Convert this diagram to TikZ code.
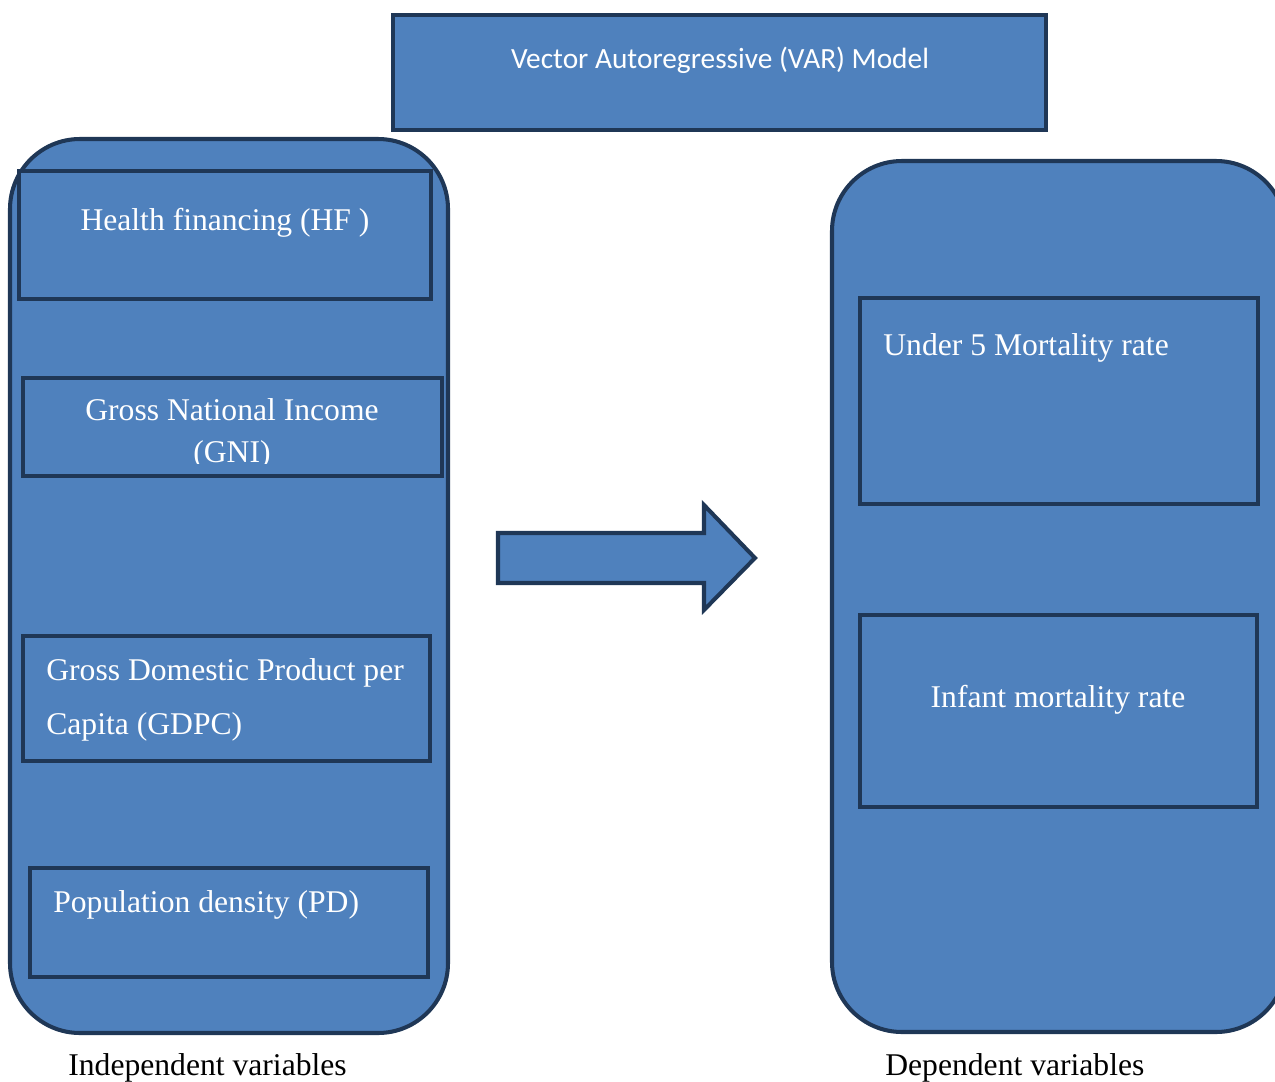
\documentclass[tikz,border=0pt]{standalone}
\usepackage{fontspec}
\setmainfont{Liberation Serif}
\newfontfamily\calibrifont{Carlito}
\usepackage{tikz}
\usetikzlibrary{positioning}
\definecolor{boxfill}{RGB}{79,129,189}
\definecolor{boxline}{RGB}{31,55,86}

\begin{document}
\begin{tikzpicture}[x=0.02cm, y=-0.02cm,
    container/.style={draw=boxline, fill=boxfill, line width=2.3pt, rounded corners=1.4cm},
    innerbox/.style={draw=boxline, fill=boxfill, line width=2.3pt},
    boxtext/.style={text=white, inner sep=0pt, font=\fontsize{18}{22}\selectfont},
    captext/.style={text=black, inner sep=0pt, font=\fontsize{18}{22}\selectfont}]
    \path[use as bounding box, clip] (0,0) rectangle (1275,1082);

    % Model box
    \draw[innerbox] (393,15) rectangle (1046,130);
    \node[text=white, inner sep=0pt, anchor=base, font=\calibrifont\fontsize{16.7}{20}\selectfont] (var) at (720,68) {Vector Autoregressive (VAR) Model};

    % Containers
    \draw[container] (10,139) rectangle (448,1033);
    \draw[container] (832,161) rectangle (1286,1032);

    % Independent variables
    \foreach \xa/\ya/\xb/\yb in {19/171/431/299, 23/378/442/476, 23/636/430/761, 30/868/428/977} {
        \draw[innerbox] (\xa,\ya) rectangle (\xb,\yb);
    }
    \node[boxtext, anchor=base] (hf) at (225,230) {Health financing (HF )};
    \node[boxtext, anchor=base] (gni) at (232,420) {Gross National Income};
    \begin{scope}
        \clip (23,378) rectangle (442,463);
        \node[boxtext, anchor=base] (gnib) at (232,462) {(GNI)};
    \end{scope}
    \node[boxtext, anchor=base west] (gdpc) at (46,680) {Gross Domestic Product per};
    \node[boxtext, anchor=base west] (gdpcb) at (46,734) {Capita (GDPC)};
    \node[boxtext, anchor=base west] (pd) at (53,912) {Population density (PD)};

    % Dependent variables
    \draw[innerbox] (860,298) rectangle (1258,504);
    \draw[innerbox] (860,615) rectangle (1257,807);
    \node[boxtext, anchor=base west] (u5) at (883,355) {Under 5 Mortality rate};
    \node[boxtext, anchor=base] (imr) at (1058,707) {Infant mortality rate};

    % Arrow
    \draw[innerbox, line join=miter] (498,533) -- (704,533) -- (704,505) -- (755,558)
        -- (704,610) -- (704,583) -- (498,583) -- cycle;

    % Captions
    \node[captext, anchor=base west] (indep) at (68,1075) {Independent variables};
    \node[captext, anchor=base west] (dep) at (885,1075) {Dependent variables};
\end{tikzpicture}
\end{document}
